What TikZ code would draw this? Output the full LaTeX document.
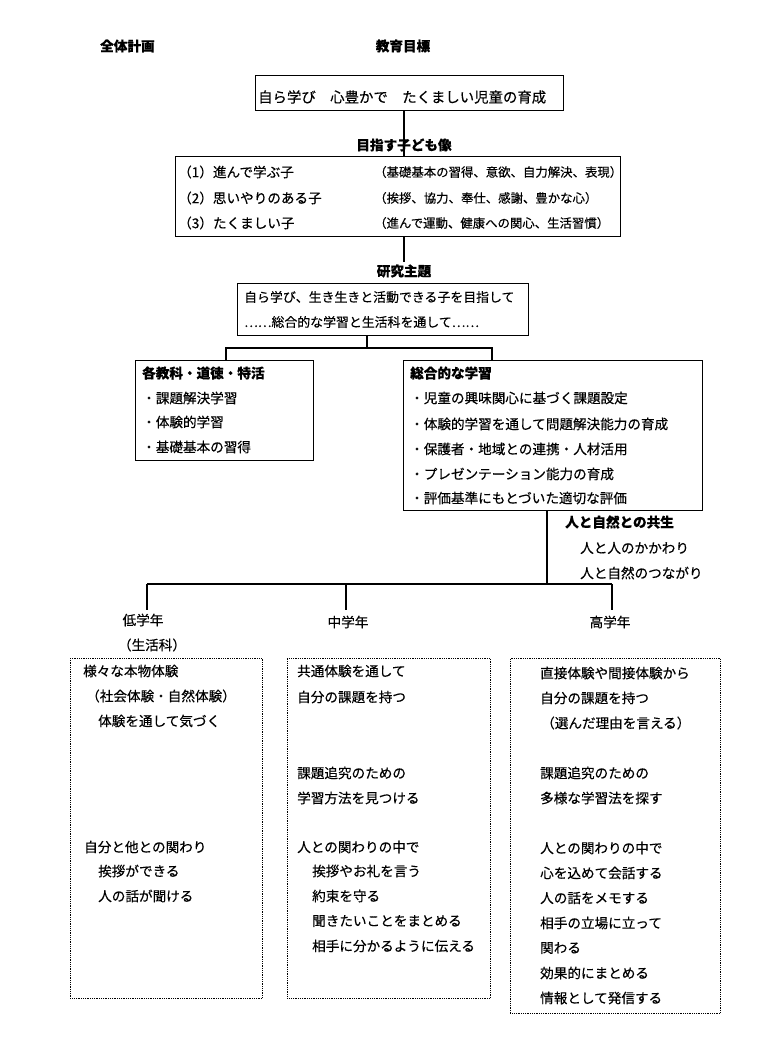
\documentclass[tikz,border=0pt]{standalone}
\usepackage{fontspec}
\setmainfont{Noto Sans CJK JP}[FakeBold=0.35]
\newcommand\fsz[1]{\fontsize{#1}{#1}\selectfont}
\begin{document}
\begin{tikzpicture}[x=1pt,y=-1pt,
  txt/.style={anchor=west,inner sep=0pt,font=\fsz{13.6}},
  ttl/.style={anchor=west,inner sep=0pt,font=\fsz{13.6}\bfseries},
  cttl/.style={inner sep=0pt,font=\fsz{13.6}\bfseries},
  ctxt/.style={inner sep=0pt,font=\fsz{13.6}},
  solidbox/.style={draw,line width=1.2pt,anchor=north west,inner sep=0pt},
  dotbox/.style={draw,line width=0.7pt,dash pattern=on 0.7pt off 1.1pt,anchor=north west,inner sep=0pt},
  conn/.style={line width=1.1pt}]
\useasboundingbox[fill=white] (0,0) rectangle (780,1053);

% headers
\node[ttl] (zentai) at (100,46) {全体計画};
\node[cttl] (kyoiku) at (403,46) {教育目標};

% box 1
\node[solidbox,minimum width=308pt,minimum height=35pt] (b1) at (255,75) {};
\node[txt,font=\fsz{14.4}] (t1) at (258,97) {自ら学び　心豊かで　たくましい児童の育成};

% box 2
\node[cttl] (mezasu) at (404,145) {目指す子ども像};
\node[solidbox,minimum width=445pt,minimum height=80pt] (b2) at (175,156) {};
\node[txt] (r1a) at (178,172) {（1）進んで学ぶ子};
\node[txt] (r2a) at (178,198) {（2）思いやりのある子};
\node[txt] (r3a) at (178,223) {（3）たくましい子};
\node[txt,font=\fsz{12.4}] (r1b) at (374,172) {（基礎基本の習得、意欲、自力解決、表現）};
\node[txt,font=\fsz{12.4}] (r2b) at (374,198) {（挨拶、協力、奉仕、感謝、豊かな心）};
\node[txt,font=\fsz{12.4}] (r3b) at (374,223) {（進んで運動、健康への関心、生活習慣）};

% box 3
\node[cttl] (kenkyu) at (404,271) {研究主題};
\node[solidbox,minimum width=291pt,minimum height=52pt] (b3) at (237,283) {};
\node[txt,font=\fsz{12.9}] (k1) at (244,297) {自ら学び、生き生きと活動できる子を目指して};
\node[txt,font=\fsz{12.9}] (k2) at (244,322) {……総合的な学習と生活科を通して……};

% box 4
\node[solidbox,minimum width=178pt,minimum height=100pt] (b4) at (135,360) {};
\node[ttl] (s0) at (142,373) {各教科・道徳・特活};
\node[txt] (s1) at (142,398) {・課題解決学習};
\node[txt] (s2) at (142,422) {・体験的学習};
\node[txt] (s3) at (142,447) {・基礎基本の習得};

% box 5
\node[solidbox,minimum width=299pt,minimum height=150pt] (b5) at (403,360) {};
\node[ttl] (g0) at (410,373) {総合的な学習};
\node[txt] (g1) at (410,398) {・児童の興味関心に基づく課題設定};
\node[txt] (g2) at (410,424) {・体験的学習を通して問題解決能力の育成};
\node[txt] (g3) at (410,449) {・保護者・地域との連携・人材活用};
\node[txt] (g4) at (410,474) {・プレゼンテーション能力の育成};
\node[txt] (g5) at (410,498) {・評価基準にもとづいた適切な評価};

% kyosei labels
\node[ttl] (ky0) at (565,522) {人と自然との共生};
\node[txt] (ky1) at (580,548) {人と人のかかわり};
\node[txt] (ky2) at (580,573) {人と自然のつながり};

% grade labels
\node[ctxt] (low) at (143,620) {低学年};
\node[ctxt] (lowb) at (152,645) {（生活科）};
\node[ctxt] (mid) at (348,622) {中学年};
\node[ctxt] (high) at (610,622) {高学年};

% dotted boxes
\node[dotbox,minimum width=192pt,minimum height=340pt] (d1) at (70,658) {};
\node[dotbox,minimum width=203pt,minimum height=340pt] (d2) at (287,658) {};
\node[dotbox,minimum width=210pt,minimum height=355pt] (d3) at (510,658) {};

% left box text
\node[txt] (l1) at (83,671) {様々な本物体験};
\node[txt] (l2) at (86,696) {（社会体験・自然体験）};
\node[txt] (l3) at (98,721) {体験を通して気づく};
\node[txt] (l4) at (84,847) {自分と他との関わり};
\node[txt] (l5) at (98,871) {挨拶ができる};
\node[txt] (l6) at (98,896) {人の話が聞ける};

% middle box text
\node[txt] (m1) at (297,671) {共通体験を通して};
\node[txt] (m2) at (297,697) {自分の課題を持つ};
\node[txt] (m3) at (297,773) {課題追究のための};
\node[txt] (m4) at (297,798) {学習方法を見つける};
\node[txt] (m5) at (297,847) {人との関わりの中で};
\node[txt] (m6) at (312,871) {挨拶やお礼を言う};
\node[txt] (m7) at (312,896) {約束を守る};
\node[txt] (m8) at (312,921) {聞きたいことをまとめる};
\node[txt] (m9) at (312,946) {相手に分かるように伝える};

% right box text
\node[txt] (h1) at (540,673) {直接体験や間接体験から};
\node[txt] (h2) at (540,698) {自分の課題を持つ};
\node[txt] (h3) at (541,723) {（選んだ理由を言える）};
\node[txt] (h4) at (540,773) {課題追究のための};
\node[txt] (h5) at (540,798) {多様な学習法を探す};
\node[txt] (h6) at (540,848) {人との関わりの中で};
\node[txt] (h7) at (540,873) {心を込めて会話する};
\node[txt] (h8) at (540,898) {人の話をメモする};
\node[txt] (h9) at (540,923) {相手の立場に立って};
\node[txt] (h10) at (540,948) {関わる};
\node[txt] (h11) at (540,973) {効果的にまとめる};
\node[txt] (h12) at (540,998) {情報として発信する};

% connectors
\coordinate (c1) at (404,0);
\draw[conn] (b1.south -| c1) -- (b2.north -| c1);
\draw[conn] (b2.south -| c1) -- (404,262);
\coordinate (j1) at (367,348);
\coordinate (jl) at (226,348);
\coordinate (jr) at (492,348);
\draw[conn] (b3.south -| j1) -- (j1);
\draw[conn] (b4.north -| jl) -- (jl) -- (jr) -- (b5.north -| jr);
\coordinate (j2) at (547,584);
\coordinate (gl) at (147,584);
\coordinate (gm) at (346,584);
\coordinate (gr) at (612,584);
\draw[conn] (b5.south -| j2) -- (j2);
\draw[conn] (gl) -- (gr);
\draw[conn] (gl) -- (147,610);
\draw[conn] (gm) -- (346,610);
\draw[conn] (gr) -- (612,610);
\end{tikzpicture}
\end{document}
